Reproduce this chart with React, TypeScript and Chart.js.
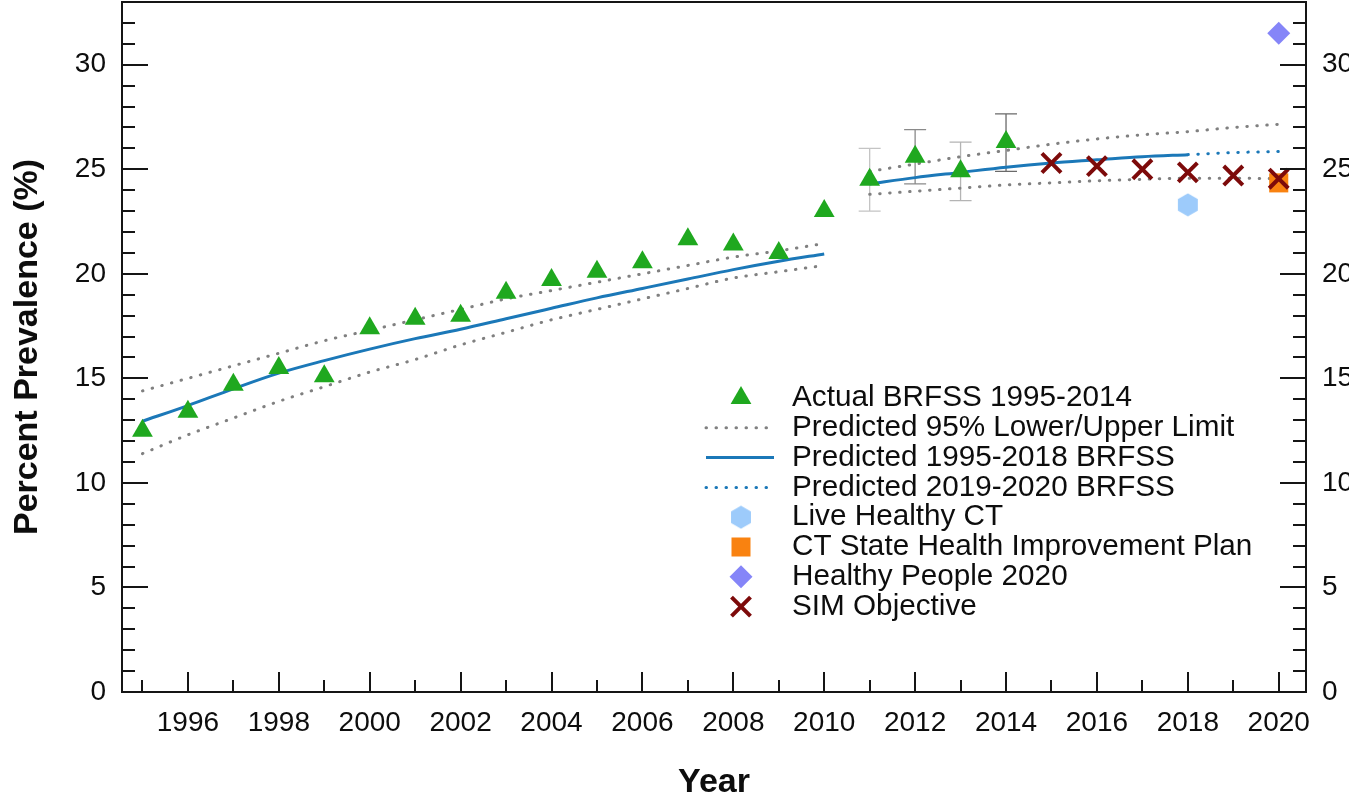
import React, { useEffect, useRef } from 'react';
import { Chart, registerables } from 'chart.js';

Chart.register(...registerables);

const FONT = '"Liberation Sans", Arial, Helvetica, sans-serif';

// ---------- data ----------
const actualYears = [1995, 1996, 1997, 1998, 1999, 2000, 2001, 2002, 2003, 2004, 2005, 2006, 2007, 2008, 2009, 2010, 2011, 2012, 2013, 2014];
const actualValues = [12.5, 13.4, 14.7, 15.5, 15.1, 17.4, 17.85, 18.0, 19.1, 19.7, 20.1, 20.55, 21.65, 21.4, 21.0, 23.0, 24.5, 25.6, 24.9, 26.3];

const errYears = [2011, 2012, 2013, 2014];
const errLow = [23.0, 24.3, 23.5, 24.9];
const errHigh = [26.0, 26.9, 26.3, 27.65];

const predYears1 = [1995, 1996, 1997, 1998, 1999, 2000, 2001, 2002, 2003, 2004, 2005, 2006, 2007, 2008, 2009, 2010];
const pred1 = [12.95, 13.7, 14.5, 15.25, 15.85, 16.4, 16.9, 17.35, 17.85, 18.35, 18.85, 19.3, 19.75, 20.2, 20.6, 20.95];
const upper1 = [14.4, 15.0, 15.6, 16.2, 16.8, 17.3, 17.8, 18.3, 18.8, 19.2, 19.6, 20.0, 20.4, 20.8, 21.1, 21.45];
const lower1 = [11.4, 12.3, 13.1, 13.9, 14.6, 15.3, 15.9, 16.6, 17.2, 17.8, 18.3, 18.8, 19.3, 19.8, 20.1, 20.4];

const predYears2 = [2011, 2012, 2013, 2014, 2015, 2016, 2017, 2018];
const pred2 = [24.3, 24.6, 24.85, 25.1, 25.3, 25.45, 25.6, 25.7];
const predFutureYears = [2018, 2019, 2020];
const predFuture = [25.7, 25.8, 25.85];

const bandYears2 = [2011, 2012, 2013, 2014, 2015, 2016, 2017, 2018, 2019, 2020];
const upper2 = [24.9, 25.25, 25.6, 25.9, 26.2, 26.45, 26.65, 26.8, 27.0, 27.15];
const lower2 = [23.8, 23.95, 24.1, 24.25, 24.35, 24.45, 24.52, 24.57, 24.57, 24.55];

const simYears = [2015, 2016, 2017, 2018, 2019, 2020];
const simValues = [25.3, 25.15, 25.0, 24.85, 24.7, 24.55];

const liveHealthyYears = [2018];
const liveHealthyValues = [23.3];
const shipYears = [2020];
const shipValues = [24.35];
const hp2020Years = [2020];
const hp2020Values = [31.5];

const xTickLabels = [1996, 1998, 2000, 2002, 2004, 2006, 2008, 2010, 2012, 2014, 2016, 2018, 2020];
const yTickLabels = [0, 5, 10, 15, 20, 25, 30];

const legendLabels = [
  'Actual BRFSS 1995-2014',
  'Predicted 95% Lower/Upper Limit',
  'Predicted 1995-2018 BRFSS',
  'Predicted 2019-2020 BRFSS',
  'Live Healthy CT',
  'CT State Health Improvement Plan',
  'Healthy People 2020',
  'SIM Objective',
];
const legendKinds = ['triangle', 'grayDots', 'blueLine', 'blueDots', 'hexagon', 'square', 'diamond', 'cross'];

// ---------- styles ----------
const GREEN = '#1fa81f';
const BLUE = '#1b78b8';
const GRAY = '#808080';
const DARKRED = '#7d0a0a';
const LIGHTBLUE = '#9dcbfb';
const ORANGE = '#f98210';
const VIOLET = '#8585f8';
const DOT_DASH = [0.5, 9.5];
const errColors = ['#c4c4c4', '#8a8a8a', '#b4b4b4', '#6a6a6a'];

const pts = (xs: number[], ys: number[]) => xs.map((x, i) => ({ x, y: ys[i] }));

function makeHexagon(): HTMLCanvasElement {
  const c = document.createElement('canvas');
  c.width = 22;
  c.height = 24;
  const ctx = c.getContext('2d')!;
  ctx.fillStyle = LIGHTBLUE;
  ctx.beginPath();
  const cx = 11, cy = 12, r = 11.5;
  for (let i = 0; i < 6; i++) {
    const a = -Math.PI / 2 + (i * Math.PI) / 3;
    const px = cx + r * Math.cos(a);
    const py = cy + r * Math.sin(a);
    if (i === 0) ctx.moveTo(px, py);
    else ctx.lineTo(px, py);
  }
  ctx.closePath();
  ctx.fill();
  return c;
}

function drawMarker(ctx: CanvasRenderingContext2D, kind: string, x: number, y: number, hex: HTMLCanvasElement) {
  ctx.save();
  ctx.setLineDash([]);
  if (kind === 'triangle') {
    const r = 12;
    ctx.fillStyle = GREEN;
    ctx.beginPath();
    for (let i = 0; i < 3; i++) {
      const a = (i * 2 * Math.PI) / 3;
      const px = x + Math.sin(a) * r;
      const py = y - Math.cos(a) * r;
      if (i === 0) ctx.moveTo(px, py);
      else ctx.lineTo(px, py);
    }
    ctx.closePath();
    ctx.fill();
  } else if (kind === 'grayDots' || kind === 'blueDots' || kind === 'blueLine') {
    ctx.strokeStyle = kind === 'grayDots' ? GRAY : BLUE;
    ctx.lineWidth = 3;
    ctx.lineCap = kind === 'blueLine' ? 'butt' : 'round';
    if (kind !== 'blueLine') ctx.setLineDash(DOT_DASH);
    ctx.beginPath();
    ctx.moveTo(x - 35, y);
    ctx.lineTo(x + 33, y);
    ctx.stroke();
  } else if (kind === 'hexagon') {
    ctx.drawImage(hex, x - hex.width / 2, y - hex.height / 2);
  } else if (kind === 'square') {
    ctx.fillStyle = ORANGE;
    ctx.fillRect(x - 9.5, y - 9.5, 19, 19);
  } else if (kind === 'diamond') {
    const r = 11.5;
    ctx.fillStyle = VIOLET;
    ctx.beginPath();
    ctx.moveTo(x - r, y);
    ctx.lineTo(x, y - r);
    ctx.lineTo(x + r, y);
    ctx.lineTo(x, y + r);
    ctx.closePath();
    ctx.fill();
  } else if (kind === 'cross') {
    const d = 9.5;
    ctx.strokeStyle = DARKRED;
    ctx.lineWidth = 4;
    ctx.beginPath();
    ctx.moveTo(x - d, y - d);
    ctx.lineTo(x + d, y + d);
    ctx.moveTo(x + d, y - d);
    ctx.lineTo(x - d, y + d);
    ctx.stroke();
  }
  ctx.restore();
}

const zeroPadding = (scale: any) => {
  scale.paddingTop = 0;
  scale.paddingBottom = 0;
  scale.paddingLeft = 0;
  scale.paddingRight = 0;
};

export default function App() {
  const ref = useRef<HTMLCanvasElement>(null);

  useEffect(() => {
    const canvas = ref.current;
    if (!canvas) return;
    const hex = makeHexagon();

    const errorBarPlugin = {
      id: 'errorBars',
      beforeDatasetsDraw(chart: any) {
        const { ctx, scales } = chart;
        const xs = scales.x, ys = scales.y;
        ctx.save();
        errYears.forEach((yr, i) => {
          const px = xs.getPixelForValue(yr);
          const pLo = ys.getPixelForValue(errLow[i]);
          const pHi = ys.getPixelForValue(errHigh[i]);
          ctx.strokeStyle = errColors[i];
          ctx.lineWidth = 1.3;
          ctx.beginPath();
          ctx.moveTo(px, pLo);
          ctx.lineTo(px, pHi);
          ctx.moveTo(px - 11, pLo);
          ctx.lineTo(px + 11, pLo);
          ctx.moveTo(px - 11, pHi);
          ctx.lineTo(px + 11, pHi);
          ctx.stroke();
        });
        ctx.restore();
      },
    };

    const framePlugin = {
      id: 'frameTicks',
      afterDatasetsDraw(chart: any) {
        const { ctx, chartArea, scales } = chart;
        const { left, right, top, bottom } = chartArea;
        const xs = scales.x, ys = scales.y;
        ctx.save();
        ctx.strokeStyle = '#151515';
        ctx.lineWidth = 2;
        ctx.strokeRect(left, top, right - left, bottom - top);
        ctx.beginPath();
        for (let v = Math.ceil(xs.min); v <= Math.floor(xs.max); v++) {
          const px = Math.round(xs.getPixelForValue(v));
          const len = v % 2 === 0 ? 20 : 12;
          ctx.moveTo(px, bottom);
          ctx.lineTo(px, bottom - len);
        }
        for (let v = 1; v < ys.max; v++) {
          const py = Math.round(ys.getPixelForValue(v));
          const len = v % 5 === 0 ? 26 : 13;
          ctx.moveTo(left, py);
          ctx.lineTo(left + len, py);
          ctx.moveTo(right, py);
          ctx.lineTo(right - len, py);
        }
        ctx.stroke();
        ctx.restore();
      },
    };

    const legendPlugin = {
      id: 'customLegend',
      afterDraw(chart: any) {
        const { ctx } = chart;
        const symX = 741, textX = 792, y0 = 398, dy = 29.8;
        ctx.save();
        ctx.font = `29.7px ${FONT}`;
        ctx.fillStyle = '#0d0d0d';
        ctx.textBaseline = 'middle';
        ctx.textAlign = 'left';
        legendLabels.forEach((label, i) => {
          const y = y0 + i * dy;
          drawMarker(ctx, legendKinds[i], symX, y, hex);
          ctx.fillText(label, textX, y);
        });
        ctx.restore();
      },
    };

    const dotted = (data: any[], color: string) => ({
      data,
      showLine: true,
      borderColor: color,
      borderWidth: 3,
      borderDash: DOT_DASH,
      borderCapStyle: 'round',
      pointRadius: 0,
      fill: false,
      cubicInterpolationMode: 'monotone',
    });
    const solid = (data: any[]) => ({
      data,
      showLine: true,
      borderColor: BLUE,
      borderWidth: 3,
      pointRadius: 0,
      fill: false,
      cubicInterpolationMode: 'monotone',
    });

    const tickFont = { family: FONT, size: 28 };
    const titleFont = { family: FONT, size: 34, weight: 'bold' as const, lineHeight: 1 };
    const noGrid = { display: false, drawTicks: false, tickLength: 0 };

    const chart = new Chart(canvas, {
      type: 'scatter',
      data: {
        datasets: [
          {
            data: pts(actualYears, actualValues),
            pointStyle: 'triangle',
            pointRadius: 12,
            backgroundColor: GREEN,
            borderColor: GREEN,
            borderWidth: 0,
          },
          {
            data: pts(simYears, simValues),
            pointStyle: 'crossRot',
            pointRadius: 13.5,
            borderColor: DARKRED,
            borderWidth: 4,
          },
          {
            data: pts(shipYears, shipValues),
            pointStyle: 'rect',
            pointRadius: 13.5,
            backgroundColor: ORANGE,
            borderColor: ORANGE,
            borderWidth: 0,
          },
          {
            data: pts(liveHealthyYears, liveHealthyValues),
            pointStyle: hex,
            pointRadius: 11,
          },
          {
            data: pts(hp2020Years, hp2020Values),
            pointStyle: 'rectRot',
            pointRadius: 11.5,
            backgroundColor: VIOLET,
            borderColor: VIOLET,
            borderWidth: 0,
          },
          solid(pts(predYears1, pred1)),
          solid(pts(predYears2, pred2)),
          dotted(pts(predFutureYears, predFuture), BLUE),
          dotted(pts(predYears1, upper1), GRAY),
          dotted(pts(predYears1, lower1), GRAY),
          dotted(pts(bandYears2, upper2), GRAY),
          dotted(pts(bandYears2, lower2), GRAY),
        ] as any,
      },
      options: {
        responsive: false,
        animation: false,
        devicePixelRatio: 1,
        events: [],
        layout: { autoPadding: false, padding: { top: 2, left: 0, right: 0, bottom: 0 } },
        plugins: {
          legend: { display: false },
          tooltip: { enabled: false },
        },
        scales: {
          x: {
            type: 'linear',
            position: 'bottom',
            min: 1994.55,
            max: 2020.6,
            grid: noGrid,
            border: { display: false },
            afterBuildTicks: (scale: any) => {
              scale.ticks = xTickLabels.map((v) => ({ value: v }));
            },
            afterFit: (scale: any) => {
              scale.height = 108;
              zeroPadding(scale);
            },
            ticks: {
              autoSkip: false,
              maxRotation: 0,
              padding: 14,
              color: '#0d0d0d',
              font: tickFont,
              callback: (v: any) => String(v),
            },
            title: {
              display: true,
              text: 'Year',
              color: '#0d0d0d',
              font: titleFont,
              padding: { top: 0, bottom: 0 },
            },
          },
          y: {
            type: 'linear',
            position: 'left',
            min: 0,
            max: 33,
            grid: noGrid,
            border: { display: false },
            afterBuildTicks: (scale: any) => {
              scale.ticks = yTickLabels.map((v) => ({ value: v }));
            },
            afterFit: (scale: any) => {
              scale.width = 122;
              zeroPadding(scale);
            },
            ticks: {
              autoSkip: false,
              padding: 16,
              color: '#0d0d0d',
              font: tickFont,
              callback: (v: any) => String(v),
            },
            title: {
              display: true,
              text: 'Percent Prevalence (%)',
              color: '#0d0d0d',
              font: titleFont,
              padding: { top: 11, bottom: 0 },
            },
          },
          y2: {
            type: 'linear',
            position: 'right',
            min: 0,
            max: 33,
            grid: noGrid,
            border: { display: false },
            afterBuildTicks: (scale: any) => {
              scale.ticks = yTickLabels.map((v) => ({ value: v }));
            },
            afterFit: (scale: any) => {
              scale.width = 43;
              zeroPadding(scale);
            },
            ticks: {
              autoSkip: false,
              padding: 16,
              color: '#0d0d0d',
              font: tickFont,
              callback: (v: any) => String(v),
            },
          },
        },
      } as any,
      plugins: [errorBarPlugin, framePlugin, legendPlugin],
    });

    return () => chart.destroy();
  }, []);

  return (
    <div style={{ position: 'fixed', left: 0, top: 0, width: 1349, height: 800, background: '#ffffff' }}>
      <canvas ref={ref} width={1349} height={800} style={{ display: 'block', width: 1349, height: 800 }} />
    </div>
  );
}
